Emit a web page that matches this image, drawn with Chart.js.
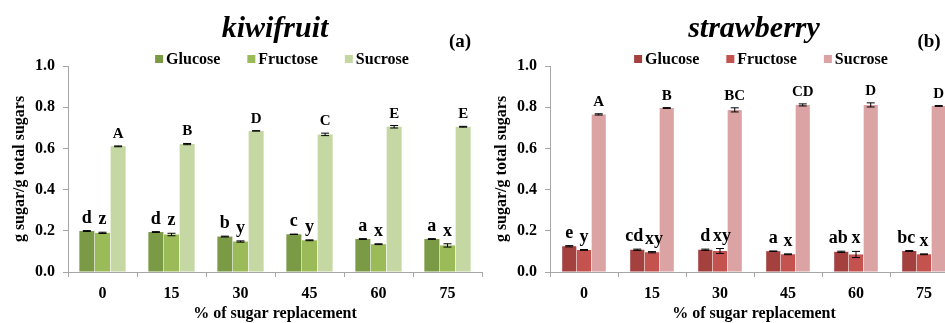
<!DOCTYPE html>
<html>
<head>
<meta charset="utf-8">
<script src="https://cdn.jsdelivr.net/npm/chart.js@4"></script>
<style>
  html, body { margin: 0; padding: 0; background: #fff; }
  body { width: 945px; height: 323px; overflow: hidden; position: relative; }
  canvas { position: absolute; top: 0; }
  #kiwi { left: 0; }
  #straw { left: 482px; }
</style>
</head>
<body>
<canvas id="kiwi" width="490" height="323"></canvas>
<canvas id="straw" width="484" height="323"></canvas>
<script>
// data
const categories = ['0', '15', '30', '45', '60', '75'];
const sugarNames = ['Glucose', 'Fructose', 'Sucrose'];

const kiwiGlucose = [0.199, 0.194, 0.172, 0.183, 0.160, 0.160];
const kiwiFructose = [0.190, 0.182, 0.148, 0.154, 0.135, 0.129];
const kiwiSucrose = [0.610, 0.621, 0.685, 0.668, 0.705, 0.705];
const kiwiGlucoseErr = [0.002, 0.002, 0.002, 0.001, 0.002, 0.002];
const kiwiFructoseErr = [0.003, 0.006, 0.003, 0.002, 0.002, 0.008];
const kiwiSucroseErr = [0.002, 0.003, 0.001, 0.006, 0.006, 0.002];
const kiwiGlucoseLetters = ['d', 'd', 'b', 'c', 'a', 'a'];
const kiwiFructoseLetters = ['z', 'z', 'y', 'y', 'x', 'x'];
const kiwiSucroseLetters = ['A', 'B', 'D', 'C', 'E', 'E'];

const strawGlucose = [0.125, 0.108, 0.108, 0.101, 0.098, 0.102];
const strawFructose = [0.107, 0.096, 0.102, 0.086, 0.085, 0.086];
const strawSucrose = [0.765, 0.796, 0.787, 0.811, 0.811, 0.806];
const strawGlucoseErr = [0.003, 0.003, 0.003, 0.001, 0.003, 0.002];
const strawFructoseErr = [0.002, 0.003, 0.012, 0.002, 0.015, 0.002];
const strawSucroseErr = [0.003, 0.002, 0.010, 0.005, 0.010, 0.002];
const strawGlucoseLetters = ['e', 'cd', 'd', 'a', 'ab', 'bc'];
const strawFructoseLetters = ['y', 'xy', 'xy', 'x', 'x', 'x'];
const strawSucroseLetters = ['A', 'B', 'BC', 'CD', 'D', 'D'];

const FONT = "'Liberation Serif', 'Times New Roman', serif";
const axisGray = '#a6a6a6';

// draws title, legend, panel tag, error bars and letters
const decorPlugin = {
  id: 'decor',
  afterDatasetsDraw(chart, args, opts) {
    const ctx = chart.ctx;
    const ca = chart.chartArea;
    const yScale = chart.scales.y;
    ctx.save();

    // error bars + significance letters
    chart.data.datasets.forEach((ds, i) => {
      const meta = chart.getDatasetMeta(i);
      meta.data.forEach((bar, j) => {
        const v = ds.data[j];
        const e = ds.errors[j];
        const yTop = yScale.getPixelForValue(v + e);
        const yBot = yScale.getPixelForValue(v - e);
        ctx.strokeStyle = '#000';
        ctx.lineWidth = 1;
        ctx.beginPath();
        ctx.moveTo(bar.x, yTop);
        ctx.lineTo(bar.x, yBot);
        ctx.moveTo(bar.x - 4, yTop);
        ctx.lineTo(bar.x + 4, yTop);
        ctx.moveTo(bar.x - 4, yBot);
        ctx.lineTo(bar.x + 4, yBot);
        ctx.stroke();

        // two-letter labels over the small bars are nudged apart
        let nudge = 0;
        if (i === 0 && ds.letters[j].length > 1) nudge = -3;
        if (i === 1 && ds.letters[j].length > 1) nudge = 2;
        ctx.fillStyle = '#000';
        ctx.textAlign = 'center';
        ctx.textBaseline = 'alphabetic';
        ctx.font = (i === 2 ? 'bold 15px ' : 'bold 18px ') + FONT;
        ctx.fillText(ds.letters[j], bar.x + nudge, yTop - 8);
      });
    });

    // title
    const cx = (ca.left + ca.right) / 2;
    ctx.fillStyle = '#000';
    ctx.textAlign = 'center';
    ctx.textBaseline = 'alphabetic';
    ctx.font = 'bold italic 30px ' + FONT;
    ctx.fillText(opts.title, cx, 37);

    // panel tag
    ctx.font = 'bold 19px ' + FONT;
    ctx.textBaseline = 'middle';
    ctx.fillText(opts.tag, opts.tagX, 42);

    // legend
    ctx.font = 'bold 16px ' + FONT;
    const box = 8, gap = 3, spacing = 27;
    const widths = chart.data.datasets.map(ds => box + gap + ctx.measureText(ds.label).width);
    const total = widths.reduce((a, b) => a + b, 0) + spacing * (widths.length - 1);
    let x = cx + 7 - total / 2;
    const ly = 59;
    ctx.textAlign = 'left';
    chart.data.datasets.forEach((ds, i) => {
      ctx.fillStyle = ds.backgroundColor;
      ctx.fillRect(x, ly - box / 2, box, box);
      ctx.fillStyle = '#000';
      ctx.fillText(ds.label, x + box + gap, ly + 1);
      x += widths[i] + spacing;
    });
    ctx.restore();
  }
};

function makeChart(id, title, tag, tagX, colors, values, errors, letters, catPct) {
  const datasets = sugarNames.map((name, i) => ({
    label: name,
    data: values[i],
    errors: errors[i],
    letters: letters[i],
    backgroundColor: colors[i],
    borderWidth: 0,
    barPercentage: 0.96,
    categoryPercentage: catPct
  }));
  return new Chart(document.getElementById(id).getContext('2d'), {
    type: 'bar',
    data: { labels: categories, datasets: datasets },
    plugins: [decorPlugin],
    options: {
      responsive: false,
      animation: false,
      layout: { padding: { top: 66, right: 8, left: 0, bottom: 0 } },
      plugins: {
        legend: { display: false },
        title: { display: false },
        tooltip: { enabled: false },
        decor: { title: title, tag: tag, tagX: tagX }
      },
      scales: {
        x: {
          grid: { drawOnChartArea: false, drawTicks: true, tickLength: 5, color: axisGray, offset: true },
          border: { color: axisGray },
          ticks: { color: '#000', padding: 7, font: { family: FONT, size: 16, weight: 'bold' } },
          title: {
            display: true, text: '% of sugar replacement', color: '#000',
            padding: { top: 0, bottom: 0 },
            font: { family: FONT, size: 16, weight: 'bold' }
          },
          afterFit: s => { s.height = 51; }
        },
        y: {
          min: 0, max: 1,
          grid: { drawOnChartArea: false, tickLength: 5, color: axisGray },
          border: { color: axisGray },
          ticks: {
            stepSize: 0.2, color: '#000', padding: 8,
            font: { family: FONT, size: 16, weight: 'bold' },
            callback: v => v.toFixed(1)
          },
          title: {
            display: true, text: 'g sugar/g total sugars', color: '#000',
            padding: { top: 10, bottom: 0 },
            font: { family: FONT, size: 16, weight: 'bold' }
          },
          afterFit: s => { s.width = 68; }
        }
      }
    }
  });
}

makeChart('kiwi', 'kiwifruit', '(a)', 460,
  ['#7a9a45', '#9bbb59', '#c5d8a4'],
  [kiwiGlucose, kiwiFructose, kiwiSucrose],
  [kiwiGlucoseErr, kiwiFructoseErr, kiwiSucroseErr],
  [kiwiGlucoseLetters, kiwiFructoseLetters, kiwiSucroseLetters], 0.68);

makeChart('straw', 'strawberry', '(b)', 447,
  ['#a4403e', '#c4524f', '#dba3a3'],
  [strawGlucose, strawFructose, strawSucrose],
  [strawGlucoseErr, strawFructoseErr, strawSucroseErr],
  [strawGlucoseLetters, strawFructoseLetters, strawSucroseLetters], 0.65);
</script>
</body>
</html>
